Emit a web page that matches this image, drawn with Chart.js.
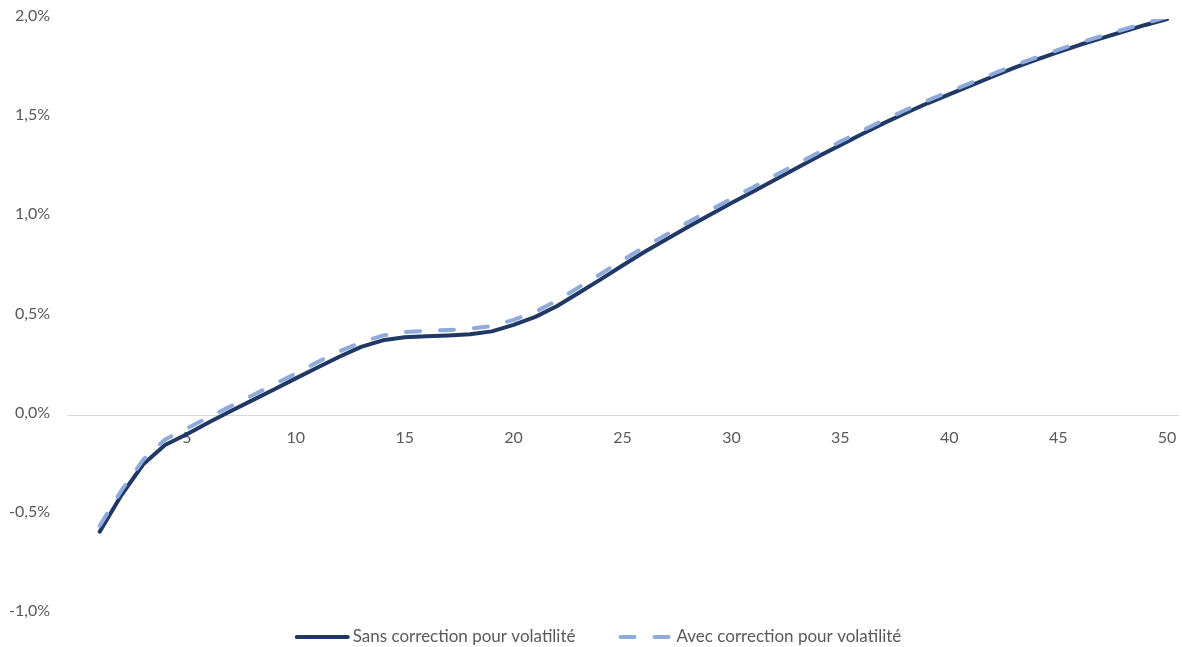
<!DOCTYPE html>
<html lang="fr">
<head>
<meta charset="utf-8">
<title>Correction pour volatilité</title>
<script src="https://cdn.jsdelivr.net/npm/chart.js@4.4.1/dist/chart.umd.min.js"></script>
<style>
  html, body { margin: 0; padding: 0; background: #ffffff; }
  #wrap { position: relative; width: 1182px; height: 647px; }
</style>
</head>
<body>
<div id="wrap"><canvas id="chart" width="1182" height="647"></canvas></div>
<script>
// Maturités (années)
const maturities = [
  1, 2, 3, 4, 5, 6, 7, 8, 9, 10,
  11, 12, 13, 14, 15, 16, 17, 18, 19, 20,
  21, 22, 23, 24, 25, 26, 27, 28, 29, 30,
  31, 32, 33, 34, 35, 36, 37, 38, 39, 40,
  41, 42, 43, 44, 45, 46, 47, 48, 49, 50
];

// Taux (en %) sans correction pour volatilité
const sansCorrection = [
  -0.585, -0.400, -0.245, -0.148, -0.094, -0.035, 0.022, 0.077, 0.132, 0.188,
  0.243, 0.297, 0.347, 0.380, 0.395, 0.400, 0.404, 0.410, 0.425, 0.458,
  0.498, 0.553, 0.620, 0.687, 0.757, 0.825, 0.888, 0.951, 1.012, 1.072,
  1.130, 1.190, 1.249, 1.308, 1.364, 1.420, 1.475, 1.526, 1.575, 1.620,
  1.665, 1.710, 1.755, 1.795, 1.833, 1.870, 1.904, 1.937, 1.970, 2.000
];

// Taux (en %) avec correction pour volatilité
const avecCorrection = [
  -0.555, -0.377, -0.222, -0.120, -0.065, -0.008, 0.047, 0.102, 0.158, 0.213,
  0.270, 0.324, 0.370, 0.404, 0.422, 0.428, 0.432, 0.438, 0.452, 0.483,
  0.524, 0.580, 0.648, 0.714, 0.784, 0.850, 0.912, 0.975, 1.035, 1.094,
  1.152, 1.211, 1.269, 1.327, 1.382, 1.437, 1.491, 1.541, 1.589, 1.634,
  1.678, 1.723, 1.767, 1.806, 1.844, 1.881, 1.914, 1.947, 1.980, 2.009
];

// Graduations de l'axe des taux (en %)
const yTicks = [-1.0, -0.5, 0.0, 0.5, 1.0, 1.5, 2.0];
const xLabelStep = 5;

const FONT = 'Lato, "Open Sans", sans-serif';
const TEXT_COLOR = '#595959';

// The category axis keeps an empty leading slot (0) before maturity 1.
const labels = [''].concat(maturities.map(String));

// Scales must not push the plot area inward for their edge labels.
function noEdgePadding(scale) {
  scale.paddingLeft = 0;
  scale.paddingRight = 0;
  scale.paddingTop = 0;
  scale.paddingBottom = 0;
}

// Legend drawn under the plot, using each dataset's own stroke style.
const bottomLegend = {
  id: 'bottomLegend',
  afterDraw(chart) {
    const ctx = chart.ctx;
    const sample = 55, gapText = 3, gapItem = 43, cy = 637, centerX = 598;
    ctx.save();
    ctx.font = '17px ' + FONT;
    const items = chart.data.datasets.map(ds => ({ ds, w: sample + gapText + ctx.measureText(ds.label).width }));
    const total = items.reduce((s, it) => s + it.w, 0) + gapItem * (items.length - 1);
    let x = centerX - total / 2;
    items.forEach(({ ds, w }) => {
      ctx.beginPath();
      ctx.lineWidth = ds.borderWidth;
      ctx.strokeStyle = ds.borderColor;
      ctx.lineCap = ds.borderCapStyle || 'butt';
      ctx.setLineDash(ds.borderDash || []);
      const inset = ds.borderCapStyle === 'round' ? ds.borderWidth / 2 : 0;
      ctx.moveTo(x + inset, cy);
      ctx.lineTo(x + sample - inset, cy);
      ctx.stroke();
      ctx.setLineDash([]);
      ctx.fillStyle = TEXT_COLOR;
      ctx.textBaseline = 'middle';
      ctx.textAlign = 'left';
      ctx.fillText(ds.label, x + sample + gapText, cy);
      x += w + gapItem;
    });
    ctx.restore();
  }
};

new Chart(document.getElementById('chart'), {
  type: 'line',
  data: {
    labels: labels,
    datasets: [
      {
        label: 'Sans correction pour volatilité',
        data: [null].concat(sansCorrection),
        borderColor: '#203864',
        backgroundColor: '#203864',
        borderWidth: 4,
        borderCapStyle: 'round',
        borderJoinStyle: 'round',
        pointRadius: 0,
        tension: 0,
        order: 2
      },
      {
        label: 'Avec correction pour volatilité',
        data: [null].concat(avecCorrection),
        borderColor: '#8FAADC',
        backgroundColor: '#8FAADC',
        borderWidth: 4,
        borderDash: [14, 20],
        borderCapStyle: 'round',
        borderJoinStyle: 'round',
        pointRadius: 0,
        tension: 0,
        order: 1
      }
    ]
  },
  options: {
    responsive: false,
    animation: false,
    devicePixelRatio: 1,
    layout: { padding: { top: 19, right: 4, bottom: 33, left: 0 } },
    plugins: {
      legend: { display: false },
      tooltip: { enabled: false }
    },
    scales: {
      x: {
        type: 'category',
        position: { y: 0 },
        offset: true,
        afterFit: noEdgePadding,
        grid: { display: false, drawTicks: false },
        border: { display: true, color: '#D9D9D9', width: 1 },
        ticks: {
          autoSkip: false,
          maxRotation: 0,
          padding: 13,
          color: TEXT_COLOR,
          font: { family: FONT, size: 16 },
          callback: function (value, index) {
            return index > 0 && index % xLabelStep === 0 ? this.getLabelForValue(value) : '';
          }
        }
      },
      y: {
        type: 'linear',
        min: yTicks[0],
        max: yTicks[yTicks.length - 1],
        afterFit(scale) { scale.width = 67; noEdgePadding(scale); },
        afterBuildTicks(scale) { scale.ticks = yTicks.map(v => ({ value: v })); },
        grid: { display: false, drawTicks: false },
        border: { display: false },
        ticks: {
          padding: 17,
          labelOffset: -3,
          color: TEXT_COLOR,
          font: { family: FONT, size: 16 },
          callback: v => v.toFixed(1).replace('.', ',') + '%'
        }
      }
    }
  },
  plugins: [bottomLegend]
});
</script>
</body>
</html>
